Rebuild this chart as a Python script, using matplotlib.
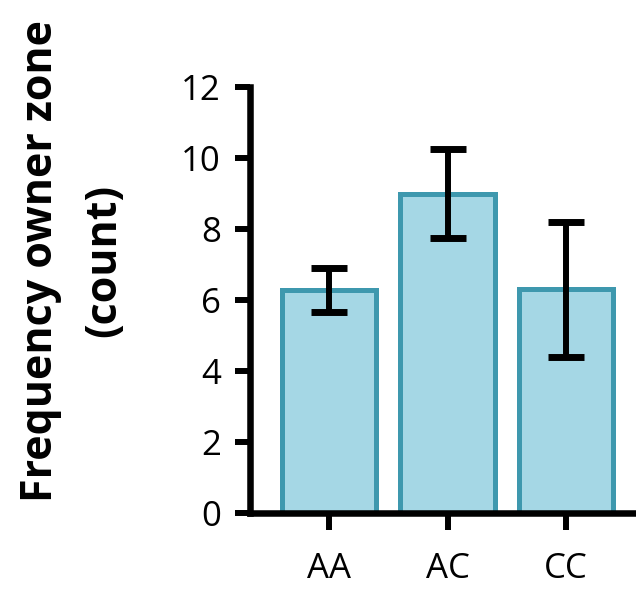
import matplotlib
matplotlib.use("Agg")
import matplotlib.pyplot as plt

# genotype groups and mean counts
GENOTYPES = ["AA", "AC", "CC"]
MEANS = [6.28, 9.0, 6.3]
ERRORS = [0.63, 1.24, 1.9]
Y_TICKS = [0, 2, 4, 6, 8, 10, 12]

FILL = "#a5d7e5"
EDGE = "#3e98ae"

plt.rcParams["font.family"] = ["Open Sans", "DejaVu Sans"]

fig = plt.figure(figsize=(6.36, 5.91), dpi=100)
ax = fig.add_axes([250 / 636, 1 - 513 / 591, (633 - 250) / 636, (513 - 87) / 591])

x = list(range(len(GENOTYPES)))
ax.bar(x, MEANS, width=0.8, color=FILL, edgecolor=EDGE, linewidth=3.6, zorder=2)
ax.errorbar(x, MEANS, yerr=ERRORS, fmt="none", ecolor="black",
            elinewidth=4.3, capsize=13, capthick=5, zorder=3)

ax.set_xlim(-0.667, 2.565)
ax.set_ylim(0, 12)
ax.set_yticks(Y_TICKS)
ax.set_xticks(x)
ax.set_xticklabels(GENOTYPES)

for side in ("top", "right"):
    ax.spines[side].set_visible(False)
for side in ("left", "bottom"):
    ax.spines[side].set_linewidth(4.7)
    ax.spines[side].set_capstyle("projecting")

ax.tick_params(axis="y", length=11, width=4.3, labelsize=25, pad=10)
ax.tick_params(axis="x", length=12, width=4.3, labelsize=25, pad=16)

ax.set_ylabel("Frequency owner zone\n(count)", fontsize=31, fontweight="bold",
              linespacing=1.6)
ax.yaxis.set_label_coords(-0.326, 0.592)

fig.savefig("out.png", dpi=100)
